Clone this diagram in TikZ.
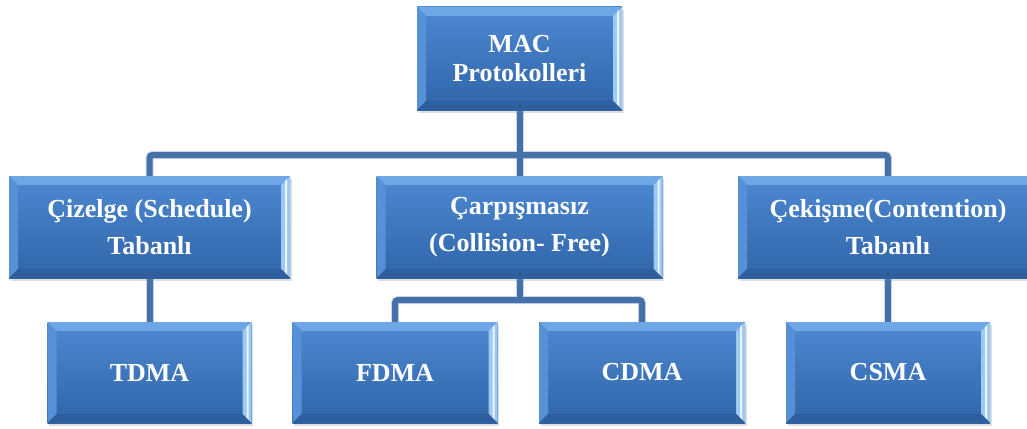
\documentclass[tikz,border=0pt]{standalone}
\usepackage{fontspec}
\setmainfont{Liberation Serif}
\usetikzlibrary{shadows,backgrounds}
\definecolor{faceTop}{HTML}{4D89D2}
\definecolor{faceBot}{HTML}{3064A8}
\definecolor{bevTop}{HTML}{6EA6E6}
\definecolor{bevLeft}{HTML}{5690D6}
\definecolor{bevRight}{HTML}{9CC9F2}
\definecolor{bevBot}{HTML}{2F5E9E}
\definecolor{lineCore}{HTML}{4570A8}
\definecolor{lineEdge}{HTML}{C9D7E8}
\tikzset{
  bx/.style={rectangle, inner sep=0pt, outer sep=0pt, top color=faceTop, bottom color=faceBot,
    text=white, align=center, font=\bfseries\fontsize{26}{37}\selectfont,
    drop shadow={opacity=0.25, shadow xshift=1.5pt, shadow yshift=-3pt},
    path picture={
      \coordinate (NW) at (path picture bounding box.north west);
      \coordinate (NE) at (path picture bounding box.north east);
      \coordinate (SW) at (path picture bounding box.south west);
      \coordinate (SE) at (path picture bounding box.south east);
      \fill[bevTop] (NW) -- (NE) -- ([shift={(-9pt,-9pt)}]NE) -- ([shift={(9pt,-9pt)}]NW) -- cycle;
      \fill[bevLeft] (NW) -- ([shift={(9pt,-9pt)}]NW) -- ([shift={(9pt,9pt)}]SW) -- (SW) -- cycle;
      \fill[bevRight] (NE) -- ([shift={(-9pt,-9pt)}]NE) -- ([shift={(-9pt,9pt)}]SE) -- (SE) -- cycle;
      \fill[white, opacity=0.8] ([shift={(-5pt,-5pt)}]NE) -- ([shift={(-3pt,-3pt)}]NE) -- ([shift={(-3pt,3pt)}]SE) -- ([shift={(-5pt,5pt)}]SE) -- cycle;
      \fill[bevBot] (SW) -- ([shift={(9pt,9pt)}]SW) -- ([shift={(-9pt,9pt)}]SE) -- (SE) -- cycle;
    }},
  connedge/.style={draw=lineEdge, line width=8pt, rounded corners=3pt},
  conncore/.style={draw=lineCore, line width=6pt, rounded corners=3pt},
}
\newcommand{\myconnectors}[1]{%
  \draw[#1] (mac.south) -- (coll.north);
  \draw[#1] (sched.north) |- (bus) -| (cont.north);
  \draw[#1] (sched.south) -- (tdma.north);
  \draw[#1] (coll.south) -- (cbus);
  \draw[#1] (fdma.north) |- (cbus) -| (cdma.north);
  \draw[#1] (cont.south) -- (csma.north);
}
\begin{document}
\begin{tikzpicture}[x=1pt,y=-1pt]
\useasboundingbox (0,0) rectangle (1027,428);
\node[bx, minimum width=205pt, minimum height=103pt, font=\bfseries\fontsize{26}{29}\selectfont] (mac) at (519.5,58.5) {MAC\\Protokolleri};
\node[bx, minimum width=281pt, minimum height=102pt] (sched) at (149.5,227) {Çizelge (Schedule)\\Tabanlı};
\node[bx, minimum width=286pt, minimum height=102pt] (coll) at (519.5,227) {Çarpışmasız\\(Collision- Free)};
\node[bx, minimum width=300pt, minimum height=102pt] (cont) at (888,227) {Çekişme(Contention)\\Tabanlı};
\node[bx, minimum width=204pt, minimum height=101pt] (tdma) at (149.5,372.5) {TDMA};
\node[bx, minimum width=205pt, minimum height=101pt] (fdma) at (395,372.5) {FDMA};
\node[bx, minimum width=206pt, minimum height=101pt] (cdma) at (642,372.5) {CDMA};
\node[bx, minimum width=204pt, minimum height=101pt] (csma) at (888,372.5) {CSMA};
\coordinate (bus) at (519.5,155);
\coordinate (cbus) at (519.5,300);
\begin{scope}[on background layer]
\myconnectors{connedge}
\myconnectors{conncore}
\end{scope}
\end{tikzpicture}
\end{document}
